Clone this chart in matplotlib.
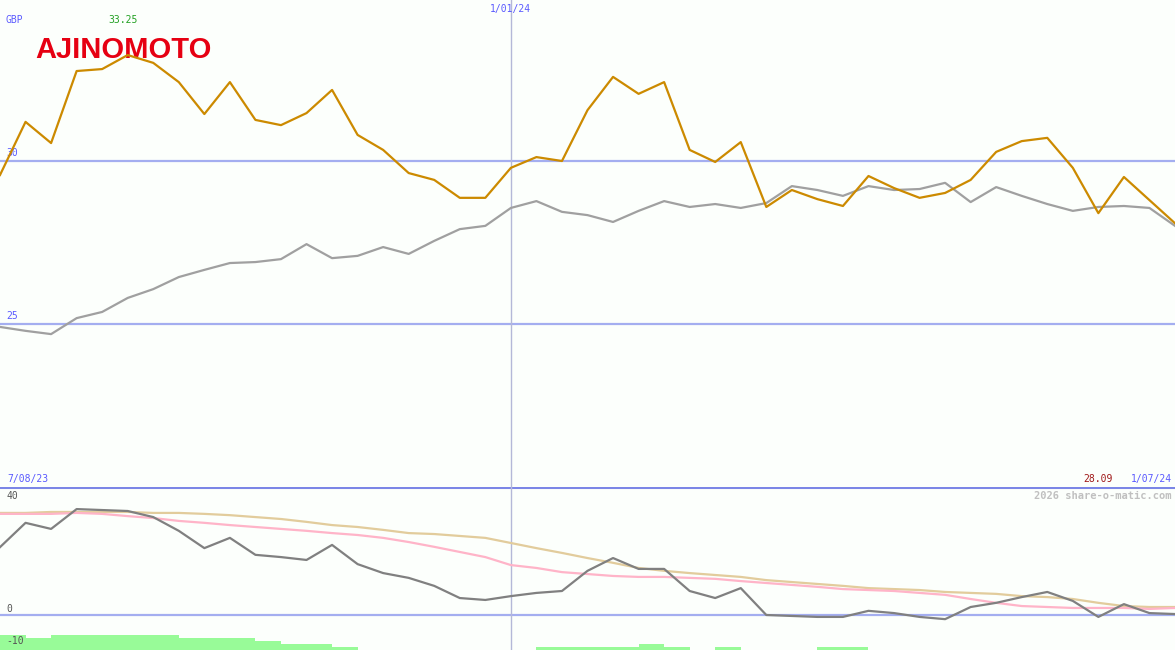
import matplotlib
matplotlib.use("Agg")
import matplotlib.pyplot as plt
import numpy as np

# weekly points, 7/08/23 .. 1/07/24
price = [29.57, 31.20, 30.55, 32.76, 32.82, 33.25, 33.01, 32.42, 31.44, 32.42,
         31.26, 31.10, 31.47, 32.18, 30.80, 30.34, 29.63, 29.42, 28.87, 28.87,
         29.79, 30.12, 30.00, 31.56, 32.58, 32.06, 32.42, 30.34, 29.97, 30.58,
         28.59, 29.11, 28.83, 28.62, 29.54, 29.17, 28.87, 29.02, 29.42, 30.28,
         30.61, 30.71, 29.79, 28.40, 29.51, 28.80, 28.09]
avg_line = [24.91, 24.79, 24.69, 25.18, 25.37, 25.80, 26.07, 26.44, 26.66, 26.87,
            26.90, 26.99, 27.45, 27.02, 27.09, 27.36, 27.15, 27.55, 27.91, 28.01,
            28.56, 28.77, 28.44, 28.34, 28.13, 28.47, 28.77, 28.59, 28.68, 28.56,
            28.71, 29.23, 29.11, 28.93, 29.23, 29.11, 29.14, 29.33, 28.74, 29.20,
            28.93, 28.68, 28.47, 28.59, 28.62, 28.56, 28.01]

osc = [21.2, 28.8, 26.9, 33.1, 32.8, 32.5, 30.6, 26.3, 20.9, 24.1,
       18.8, 18.1, 17.2, 21.9, 15.9, 13.1, 11.6, 9.1, 5.3, 4.7,
       5.9, 6.9, 7.5, 13.8, 17.8, 14.4, 14.4, 7.5, 5.3, 8.4,
       0.0, -0.3, -0.6, -0.6, 1.3, 0.6, -0.6, -1.3, 2.5, 3.8,
       5.6, 7.2, 4.4, -0.6, 3.4, 0.6, 0.3]
osc_fast = [31.6, 31.6, 31.6, 31.9, 31.6, 30.9, 30.3, 29.4, 28.8, 28.1,
            27.5, 26.9, 26.3, 25.6, 25.0, 24.1, 22.8, 21.3, 19.7, 18.1,
            15.6, 14.7, 13.4, 12.8, 12.2, 11.9, 11.9, 11.6, 11.3, 10.6,
            10.0, 9.4, 8.8, 8.1, 7.8, 7.5, 6.9, 6.3, 5.0, 3.8,
            2.8, 2.5, 2.2, 2.2, 2.2, 1.9, 2.2]
osc_slow = [31.9, 31.9, 32.2, 32.2, 32.2, 32.2, 31.9, 31.9, 31.6, 31.2,
            30.6, 30.0, 29.1, 28.1, 27.5, 26.6, 25.6, 25.3, 24.7, 24.1,
            22.5, 20.9, 19.4, 17.8, 16.3, 14.7, 13.8, 13.1, 12.5, 11.9,
            10.9, 10.3, 9.7, 9.1, 8.4, 8.1, 7.8, 7.2, 6.9, 6.6,
            5.9, 5.6, 5.0, 3.8, 2.8, 2.5, 2.5]
# green bars between weekly points
vol = [5, 4, 5, 5, 5, 5, 5, 4, 4, 4,
       3, 2, 2, 1, 0, 0, 0, 0, 0, 0,
       0, 1, 1, 1, 1, 2, 1, 0, 1, 0,
       0, 0, 1, 1, 0, 0, 0, 0, 0, 0,
       0, 0, 0, 0, 0, 0]

x = np.arange(len(price))
bg = "#fcfffc"
blue = "#5a5aff"
grid_c = "#a4aef0"
mono = "DejaVu Sans Mono"

fig = plt.figure(figsize=(11.75, 6.5), dpi=100, facecolor=bg)
ax = fig.add_axes([0, 163 / 650, 1, 487 / 650], facecolor=bg)
axv = fig.add_axes([0, 0, 1, 163 / 650])
axb = fig.add_axes([0, 0, 1, 163 / 650])

for a in (ax, axb, axv):
    a.set_xlim(0, len(price) - 1)
    a.set_axis_off()
axb.patch.set_visible(False)
axv.patch.set_visible(False)

# top panel
ax.set_ylim(30 - 326 / 32.6, 30 + 161 / 32.6)
for lv in (30, 25):
    ax.axhline(lv, color=grid_c, lw=1.6, zorder=1)
    ax.text(0.25, lv + 0.08, str(lv), color=blue, fontsize=7, family=mono, va="bottom")
ax.axvline(20, color="#b4b8d8", lw=1, zorder=1)
ax.plot(x, avg_line, color="#a0a0a0", lw=1.6, zorder=3)
ax.plot(x, price, color="#cc8a00", lw=1.6, zorder=4)

ax.text(5 / 1175, 1 - 20 / 487, "GBP", transform=ax.transAxes, color=blue,
        fontsize=7, family=mono, va="center")
ax.text(108 / 1175, 1 - 20 / 487, "33.25", transform=ax.transAxes, color="#22a022",
        fontsize=7, family=mono, va="center")
ax.text(20, 1 - 9 / 487, "1/01/24", transform=ax.get_xaxis_transform(), color=blue,
        fontsize=7, family=mono, ha="center", va="center")
ax.text(35 / 1175, 1 - 58 / 487, "AJINOMOTO", transform=ax.transAxes, color="#e60012",
        fontsize=21, family="Liberation Sans", fontweight="bold", va="baseline")
ax.text(7 / 1175, 3 / 487, "7/08/23", transform=ax.transAxes, color=blue,
        fontsize=7, family=mono, va="bottom")
ax.text(1113 / 1175, 3 / 487, "28.09", transform=ax.transAxes, color="#a01818",
        fontsize=7, family=mono, va="bottom", ha="right")
ax.text(1172 / 1175, 3 / 487, "1/07/24", transform=ax.transAxes, color=blue,
        fontsize=7, family=mono, va="bottom", ha="right")

# bottom panel
axv.set_ylim(0, 163 / 3)
axv.bar(x[:-1] + 0.5, vol, width=1.0, color="#98fb98", linewidth=0)

axb.set_ylim(-35 / 3.2, 40)
axb.axhline(40, color="#7b86e6", lw=2.2, zorder=1)
axb.axhline(0, color=grid_c, lw=1.6, zorder=1)
axb.axvline(20, color="#b4b8d8", lw=1, zorder=1)
axb.plot(x, osc_slow, color="#e2cc9c", lw=1.6, zorder=2)
axb.plot(x, osc_fast, color="#ffb4c8", lw=1.6, zorder=3)
axb.plot(x, osc, color="#808080", lw=1.6, zorder=4)

axb.text(0.25, 37.2, "40", color="#555555", fontsize=7, family=mono, va="center")
axb.text(0.25, 1.8, "0", color="#555555", fontsize=7, family=mono, va="center")
axb.text(0.25, -8.2, "-10", color="#555555", fontsize=7, family=mono, va="center")
axb.text(1172 / 1175, 1 - 9 / 163, "2026 share-o-matic.com", transform=axb.transAxes,
         color="#c0c0c0", fontsize=7.5, family=mono, fontweight="bold",
         ha="right", va="center")

fig.savefig("out.png", dpi=100, facecolor=bg)
